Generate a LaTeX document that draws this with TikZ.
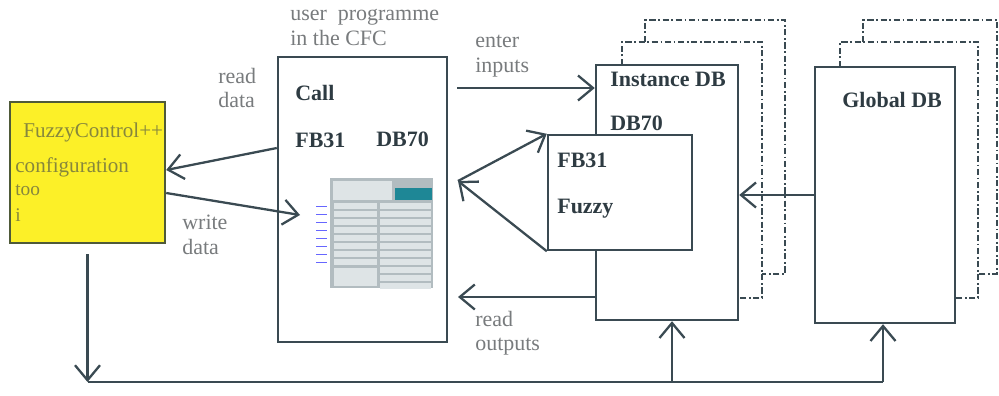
\documentclass[tikz,border=0pt]{standalone}
\usepackage{fontspec}
\setmainfont{Liberation Serif}
\usetikzlibrary{arrows.meta}

\definecolor{ln}{RGB}{58,74,82}
\definecolor{lbl}{RGB}{120,123,125}
\definecolor{cfgfill}{RGB}{252,240,40}
\definecolor{cfgtext}{RGB}{135,135,60}
\definecolor{thumb}{RGB}{178,188,192}
\definecolor{row}{RGB}{222,228,230}
\definecolor{teal}{RGB}{30,135,150}

\begin{document}
\begin{tikzpicture}[x=0.02cm,y=-0.02cm,
    box/.style={shape=rectangle,draw=ln,line width=1.4pt,fill=white,inner sep=0pt},
    word/.style={anchor=base west,inner sep=0pt,text=lbl,font=\fontsize{12.5}{14}\selectfont},
    bold/.style={anchor=base west,inner sep=0pt,text=ln!80!black,font=\fontsize{12.5}{14}\selectfont\bfseries},
    arr/.style={color=ln,line width=1.3pt,-{Straight Barb[length=3mm,width=5mm]}},
    wire/.style={draw=ln,line width=1.3pt},
    ghost/.style={draw=ln,line width=1.6pt,dash pattern=on 3.5pt off 1.5pt on 1pt off 1.5pt}]

    \useasboundingbox (0,0) rectangle (999,395);

    % stacked copies behind the data blocks
    \draw[ghost] (645,42) |- (785,20) |- (762,274);
    \draw[ghost] (622,65) |- (762,42) |- (738,298);
    \draw[ghost] (863,42) |- (997,20) |- (978,274);
    \draw[ghost] (840,67) |- (978,42) |- (955,298);

    % blocks
    \node[box,fill=cfgfill,draw=ln!70!olive,minimum width=3.1cm,minimum height=2.82cm] (F) at (87.5,172.5) {};
    \node[box,minimum width=3.38cm,minimum height=5.7cm] (U) at (362.5,199.5) {};
    \node[box,minimum width=2.84cm,minimum height=5.1cm] (I) at (667,192.5) {};
    \node[box,minimum width=2.88cm,minimum height=2.3cm] (S) at (620,192.5) {};
    \node[box,minimum width=2.8cm,minimum height=5.12cm] (G) at (885,195) {};

    % texts
    \node[word] (t1) at (290,21) {user\ \ programme};
    \node[word] (t2) at (290,46) {in the CFC};
    \node[word] (t3) at (218,84) {read};
    \node[word] (t4) at (218,108) {data};
    \node[word] (t5) at (182,229) {write};
    \node[word] (t6) at (182,254) {data};
    \node[word] (t7) at (475,48) {enter};
    \node[word] (t8) at (475,72) {inputs};
    \node[word] (t9) at (475,326) {read};
    \node[word] (t10) at (475,350) {outputs};

    \node[word,text=cfgtext,font=\fontsize{12}{14}\selectfont] (c1) at (23,137) {FuzzyControl++};
    \node[word,text=cfgtext,font=\fontsize{12}{14}\selectfont] (c2) at (15,172) {configuration};
    \node[word,text=cfgtext,font=\fontsize{11}{13}\selectfont] (c3) at (15,195) {too};
    \node[word,text=cfgtext,font=\fontsize{11}{13}\selectfont] (c4) at (15,221) {i};

    \node[bold] (b1) at (295,100) {Call};
    \node[bold] (b2) at (295,147) {FB31};
    \node[bold] (b3) at (376,146) {DB70};
    \node[bold] (b4) at (610,87) {Instance DB};
    \node[bold] (b5) at (610,130) {DB70};
    \node[bold] (b6) at (557,167) {FB31};
    \node[bold] (b7) at (557,213) {Fuzzy};
    \node[bold] (b8) at (842,107) {Global DB};

    % little screen shot of the block
    \fill[thumb] (330,178) rectangle (433,288);
    \fill[row] (333,181) rectangle (392,200);
    \fill[teal] (395,188) rectangle (432,200);
    \foreach \r in {0,...,10} {
        \fill[row] (380,203+\r*8) rectangle (431,209+\r*8);
    }
    \foreach \r in {0,...,7} {
        \fill[row] (334,203+\r*8) rectangle (377,209+\r*8);
        \draw[blue!60,line width=0.4pt] (316,206+\r*8) -- (327,206+\r*8);
    }
    \fill[row] (334,268) rectangle (377,286);

    % connectors
    \coordinate (wd) at (300,215);
    \coordinate (ei) at (457,88);
    \coordinate (tip) at (458,181);
    \coordinate (ro) at (458,297);
    \coordinate (bl) at (88,382);
    \coordinate (bm) at (672,382);
    \coordinate (br) at (883,382);

    \path [arr] ([yshift=1.03cm]U.west) edge node {} ([yshift=0.05cm]F.east);
    \path [arr] ([yshift=-0.41cm]F.east) edge node {} (wd);
    \path [arr] (ei) edge node {} (ei -| I.west);
    \path [arr] (S.south west) edge node {} (tip);
    \path [arr] (tip) edge node {} (S.north west);
    \path [arr] (ro -| I.west) edge node {} (ro);
    \path [arr] (G.west) edge node {} (G.west -| I.east);

    \draw[wire] (bl) -- (br);
    \path [arr] ([yshift=-0.2cm]F.south) edge node {} (F.south |- bl);
    \path [arr] (bm) edge node {} (bm |- I.south);
    \path [arr] (br) edge node {} (br |- G.south);
\end{tikzpicture}
\end{document}
